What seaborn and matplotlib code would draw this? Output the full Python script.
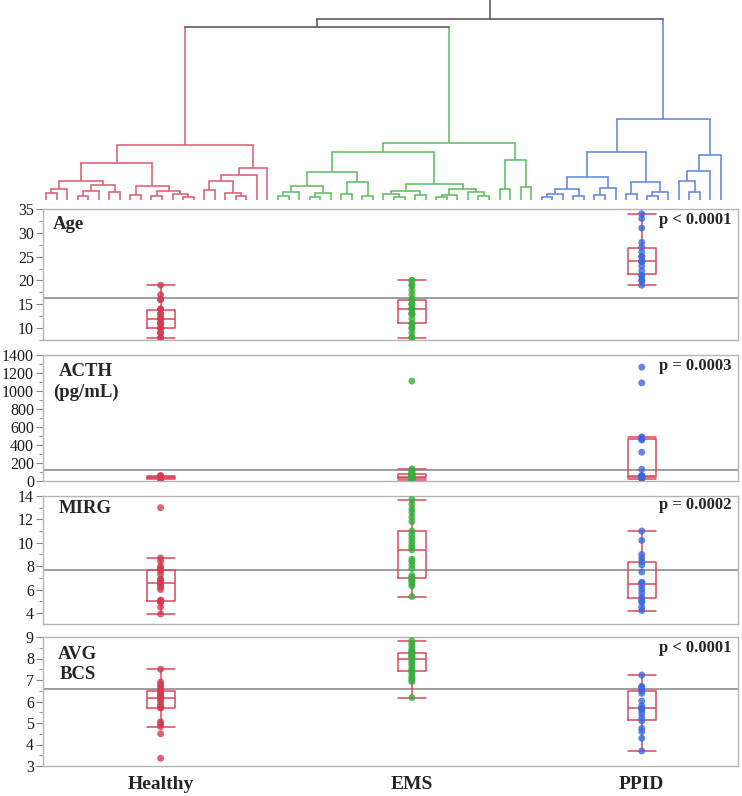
import numpy as np
import pandas as pd
import matplotlib
matplotlib.use("Agg")
import matplotlib.pyplot as plt
import seaborn as sns
from matplotlib.ticker import MultipleLocator, AutoMinorLocator

sns.set_style("white")
plt.rcParams["font.family"] = ["Liberation Serif", "DejaVu Serif"]

# ---------------- data ----------------
groups = ["Healthy", "EMS", "PPID"]
group_sizes = [22, 25, 18]
point_colors = ["#d63a52", "#38ae3c", "#3d68dc"]
dendro_colors = ["#dc6074", "#62bd62", "#6088da"]

age_healthy = [8, 8, 9, 9, 10, 10, 10, 11, 11, 11, 12, 12, 12, 12, 13, 13, 14, 14, 16, 16, 17, 19]
age_ems = [8, 8, 9, 10, 10, 11, 11, 12, 13, 13, 13, 14, 14, 14, 15, 15, 16, 16, 16, 17, 18, 19, 19, 20, 20]
age_ppid = [19, 20, 20, 21, 21, 22, 23, 24, 24, 24, 25, 25, 26, 27, 28, 31, 33, 34]

acth_healthy = [25, 28, 30, 30, 32, 33, 35, 35, 36, 38, 38, 40, 40, 42, 42, 45, 45, 48, 50, 52, 55, 60]
acth_ems = [15, 18, 20, 22, 25, 28, 30, 32, 35, 38, 40, 42, 45, 48, 50, 55, 60, 65, 75, 80, 90, 100, 120, 135, 1110]
acth_ppid = [25, 30, 35, 42, 48, 50, 52, 55, 58, 60, 130, 320, 455, 465, 480, 490, 1090, 1265]

mirg_healthy = [3.9, 4.5, 4.9, 5.0, 5.0, 5.0, 5.1, 6.0, 6.2, 6.4, 6.5, 6.7, 6.8, 6.9, 7.3, 7.6, 7.7, 7.8, 8.0, 8.4, 8.7, 13.0]
mirg_ems = [5.4, 6.3, 6.5, 6.7, 6.8, 7.0, 7.0, 7.2, 7.8, 8.1, 8.4, 8.6, 9.4, 9.6, 9.8, 10.1, 10.4, 10.7, 11.0, 11.8, 12.2, 12.6, 12.9, 13.3, 13.7]
mirg_ppid = [4.2, 4.5, 4.9, 5.0, 5.2, 5.35, 5.7, 6.0, 6.3, 6.6, 6.6, 7.5, 8.1, 8.4, 8.7, 9.0, 10.2, 11.0]

bcs_healthy = [3.36, 4.5, 4.83, 4.95, 5.06, 5.7, 5.72, 5.75, 5.85, 6.0, 6.1, 6.2, 6.25, 6.3, 6.4, 6.45, 6.5, 6.6, 6.7, 6.8, 6.9, 7.5]
bcs_ems = [6.18, 6.92, 7.0, 7.1, 7.15, 7.3, 7.4, 7.45, 7.55, 7.7, 7.8, 7.9, 8.0, 8.05, 8.1, 8.13, 8.2, 8.25, 8.25, 8.3, 8.35, 8.45, 8.6, 8.7, 8.83]
bcs_ppid = [3.7, 4.29, 4.6, 4.75, 5.1, 5.26, 5.45, 5.6, 5.65, 5.7, 5.8, 6.02, 6.38, 6.5, 6.57, 6.69, 6.7, 7.23]

panel_names = ["Age", "ACTH\n(pg/mL)", "MIRG", "AVG\nBCS"]
p_values = ["p < 0.0001", "p = 0.0003", "p = 0.0002", "p < 0.0001"]
grand_means = [16.4, 120, 7.7, 6.6]
panel_values = [
    [age_healthy, age_ems, age_ppid],
    [acth_healthy, acth_ems, acth_ppid],
    [mirg_healthy, mirg_ems, mirg_ppid],
    [bcs_healthy, bcs_ems, bcs_ppid],
]
y_limits = [(7.5, 35), (0, 1400), (3.05, 14), (3, 9)]
y_steps = [5, 200, 2, 1]

# dendrogram (merge heights; None = leaf)
L = None
healthy_tree = [55,
                [37,
                 [19, [11, [7, L, L], L], [15, [9, [4, L, L], L], [8, L, L]]],
                 [14, [5, L, L], [9, [4, L, L], [6, L, [3, L, L]]]]],
                [32, [25, [19, [10, L, L], [7, L, [4, L, L]]], L], L]]
ems_tree = [57,
            [48,
             [28, [14, [8, [4, L, L], L], [7, [3, L, L], L]], [18, [6, L, L], [4, L, L]]],
             [16, [9, [6, L, [3, L, L]], [5, L, L]], [11, [5, [3, L, L], L], [8, L, [4, L, L]]]]],
            [40, [11, L, L], [13, L, L]]]
ppid_tree = [81,
             [48,
              [23, [11, [6, [3, L, L], L], [4, L, L]], [12, [5, L, L], L]],
              [18, [6, L, L], [8, [4, L, L], L]]],
             [45, [29, [19, L, [8, L, L]], L], L]]
red_green_height = 173
root_height = 181

# ---------------- layout ----------------
W, H = 742, 796
fig = plt.figure(figsize=(W / 100, H / 100), dpi=100)
left_px, right_px = 43, 738
panel_px = [(209, 340), (355, 481), (496, 624), (637, 766)]

def rect(top, bottom):
    return [left_px / W, 1 - bottom / H, (right_px - left_px) / W, (bottom - top) / H]

# dendrogram
dax = fig.add_axes(rect(0, 200))
dax.axis("off")
cluster_colors = {id(healthy_tree): dendro_colors[0],
                  id(ems_tree): dendro_colors[1],
                  id(ppid_tree): dendro_colors[2]}
root = [root_height, [red_green_height, healthy_tree, ems_tree], ppid_tree]
state = {"next": 0}
lw_d = 1.15

def draw_tree(node, color):
    if node is None:
        x = state["next"]
        state["next"] += 1
        return x, 0.0, color
    c = cluster_colors.get(id(node), color)
    h, left, right = node
    xl, hl, cl = draw_tree(left, c)
    xr, hr, cr = draw_tree(right, c)
    dax.plot([xl, xl], [hl, h], color=cl, lw=lw_d, solid_capstyle="butt")
    dax.plot([xr, xr], [hr, h], color=cr, lw=lw_d, solid_capstyle="butt")
    dax.plot([xl, xr], [h, h], color=c, lw=lw_d, solid_capstyle="projecting")
    return (xl + xr) / 2, h, c

rx, rh, _ = draw_tree(root, "#555555")
dax.plot([rx, rx], [rh, 200], color="#555555", lw=lw_d)
n_leaves = state["next"]
px_per_leaf = (721 - 46) / (n_leaves - 1)
dax.set_xlim(-(46 - left_px) / px_per_leaf, (n_leaves - 1) + (right_px - 721) / px_per_leaf)
dax.set_ylim(0, 200)

# group positions proportional to group sizes
starts = np.concatenate([[0], np.cumsum(group_sizes)[:-1]])
centers = starts + np.array(group_sizes) / 2
total = sum(group_sizes)
box_w_units = 2.6
native = np.min(np.diff(np.sort(centers)))
palette = dict(zip(groups, point_colors))
box_red = "#d9485e"

label_pos = [(0.0145, 0.878, "left"), (0.062, 0.786, "center"),
             (0.023, 0.906, "left"), (0.05, 0.787, "center")]
p_y = [0.916, 0.913, 0.93, 0.915]
label_spacing = [1.2, 1.29, 1.2, 1.19]

axes = []
for i, (top, bottom) in enumerate(panel_px):
    ax = fig.add_axes(rect(top, bottom))
    rows = []
    for g, c, vals in zip(groups, centers, panel_values[i]):
        for v in vals:
            rows.append({"group": g, "pos": c, "value": v})
    df = pd.DataFrame(rows)
    ax.axhline(grand_means[i], color="#8c8c8c", lw=1.2, zorder=1)
    before = set(ax.lines)
    sns.boxplot(data=df, x="pos", y="value", native_scale=True, fill=False,
                color=box_red, linewidth=1.1, width=box_w_units / native,
                whis=1.5, showfliers=False, ax=ax, zorder=2)
    # caps as wide as the box (JMP style)
    for ln in ax.lines:
        if ln in before:
            continue
        xd = np.asarray(ln.get_xdata(), dtype=float)
        yd = np.asarray(ln.get_ydata(), dtype=float)
        if len(xd) == 2 and yd[0] == yd[1]:
            w = abs(xd[1] - xd[0])
            if 0 < w < box_w_units * 0.9:
                mid = xd.mean()
                ln.set_xdata([mid - box_w_units / 2, mid + box_w_units / 2])
    sns.stripplot(data=df, x="pos", y="value", hue="group", palette=palette,
                  native_scale=True, jitter=False, size=5.0, alpha=0.8,
                  linewidth=0, legend=False, ax=ax, zorder=3)
    ax.set_xlim(0, total)
    ax.set_ylim(*y_limits[i])
    ax.yaxis.set_major_locator(MultipleLocator(y_steps[i]))
    ax.yaxis.set_minor_locator(AutoMinorLocator(2))
    ax.set_xlabel("")
    ax.set_ylabel("")
    for s in ax.spines.values():
        s.set_visible(True)
        s.set_color("#b4b4b4")
        s.set_linewidth(1.0)
    ax.tick_params(axis="y", which="major", direction="out", length=5, width=0.8,
                   color="#8a8a8a", labelsize=11.5, labelcolor="#1a1a1a", pad=1.5, left=True)
    ax.tick_params(axis="y", which="minor", direction="out", length=3, width=0.6,
                   color="#8a8a8a", left=True)
    lx, ly, ha = label_pos[i]
    ax.text(lx, ly, panel_names[i], transform=ax.transAxes, ha=ha, va="center",
            fontsize=13.5, fontweight="bold", linespacing=label_spacing[i],
            multialignment="center")
    ax.text(0.991, p_y[i], p_values[i], transform=ax.transAxes, ha="right",
            va="center", fontsize=12, fontweight="bold")
    if i < 3:
        ax.set_xticks([])
    else:
        ax.set_xticks(centers)
        ax.set_xticklabels(groups, fontsize=14, fontweight="bold")
        ax.tick_params(axis="x", length=0, pad=7)
    axes.append(ax)

fig.savefig("out.png", dpi=100)
